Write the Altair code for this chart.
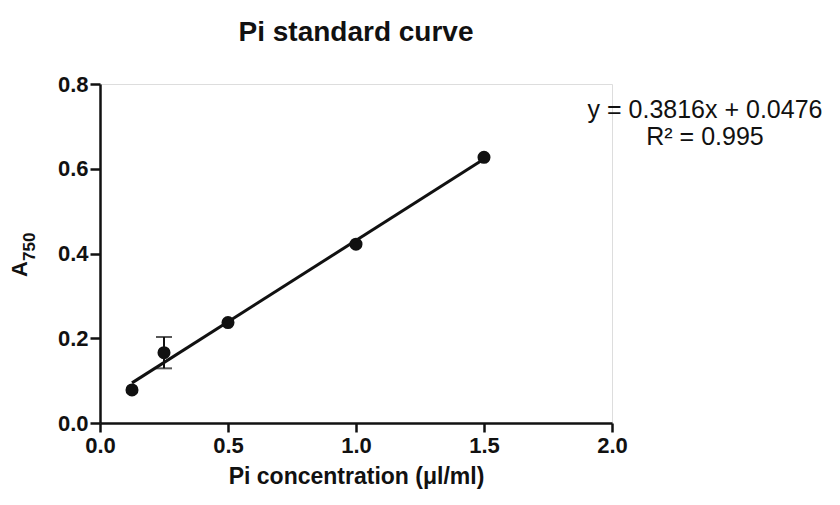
import altair as alt
import pandas as pd

# Data
conc = [0.125, 0.25, 0.5, 1.0, 1.5]
a750 = [0.078, 0.166, 0.237, 0.422, 0.627]
err = [0.0, 0.037, 0.0, 0.0, 0.0]

x_ticks = [0.0, 0.5, 1.0, 1.5, 2.0]
y_ticks = [0.0, 0.2, 0.4, 0.6, 0.8]

eq_line1 = "y = 0.3816x + 0.0476"
eq_line2 = "R\u00b2 = 0.995"
y_title_main = "A"
y_title_sub = "750"

df = pd.DataFrame({"x": conc, "y": a750, "err": err})
df["lo"] = df["y"] - df["err"]
df["hi"] = df["y"] + df["err"]
df_err = df[df["err"] > 0]

FONT = "Liberation Sans"
BLACK = "#111111"

xscale = alt.Scale(domain=[0, 2], nice=False, zero=True)
yscale = alt.Scale(domain=[0, 0.8], nice=False, zero=True)

xaxis = alt.Axis(
    values=x_ticks, format=".1f", title="Pi concentration (\u03bcl/ml)",
    grid=False, domainColor=BLACK, domainWidth=2.5, tickColor=BLACK,
    tickWidth=2.5, tickSize=9, labelFont=FONT, labelFontSize=22,
    labelFontWeight="bold", labelColor=BLACK, labelPadding=3,
    titleFont=FONT, titleFontSize=23, titleFontWeight="bold",
    titleColor=BLACK, titlePadding=9, labelFlush=False,
)
yaxis = alt.Axis(
    values=y_ticks, format=".1f", title=None,
    grid=False, domainColor=BLACK, domainWidth=2.5, tickColor=BLACK,
    tickWidth=2.5, tickSize=10, labelFont=FONT, labelFontSize=22,
    labelFontWeight="bold", labelColor=BLACK, labelPadding=2,
    labelFlush=False,
)

base = alt.Chart(df)

points = base.mark_circle(size=170, color=BLACK, opacity=1).encode(
    x=alt.X("x:Q", scale=xscale, axis=xaxis),
    y=alt.Y("y:Q", scale=yscale, axis=yaxis),
)

fit = base.transform_regression("x", "y", extent=[0.125, 1.5]).mark_line(
    color=BLACK, strokeWidth=3
).encode(x="x:Q", y="y:Q")

err_rule = alt.Chart(df_err).mark_rule(color=BLACK, strokeWidth=2).encode(
    x="x:Q", y="lo:Q", y2="hi:Q"
)
err_cap_hi = alt.Chart(df_err).mark_tick(
    color=BLACK, orient="horizontal", size=16, thickness=2
).encode(x="x:Q", y="hi:Q")
err_cap_lo = alt.Chart(df_err).mark_tick(
    color=BLACK, orient="horizontal", size=16, thickness=2
).encode(x="x:Q", y="lo:Q")

one = pd.DataFrame({"k": [0]})


def label(text, x, y, size, weight="normal", angle=0, align="center"):
    return alt.Chart(one).mark_text(
        text=text, font=FONT, fontSize=size, fontWeight=weight, color=BLACK,
        align=align, baseline="alphabetic", angle=angle,
    ).encode(x=alt.value(x), y=alt.value(y))


eq1 = label(eq_line1, 605, 34, 25)
eq2 = label(eq_line2, 605, 61, 25)
ytitle_a = label(y_title_main, -73, 193, 22, "bold", 270, "left")
ytitle_sub = label(y_title_sub, -65, 177, 17, "bold", 270, "left")

chart = alt.layer(
    points, fit, err_rule, err_cap_hi, err_cap_lo, eq1, eq2, ytitle_a, ytitle_sub
).properties(
    width=512,
    height=339,
    title=alt.TitleParams(
        "Pi standard curve", font=FONT, fontSize=28, fontWeight="bold",
        color=BLACK, anchor="middle", frame="group", offset=26,
    ),
    autosize=alt.AutoSizeParams(type="none"),
    padding={"left": 92, "top": 76, "right": 220, "bottom": 74},
).configure_view(stroke=None).configure(background="white")

chart.save("out.html", embed_options={"renderer": "svg", "actions": False})
